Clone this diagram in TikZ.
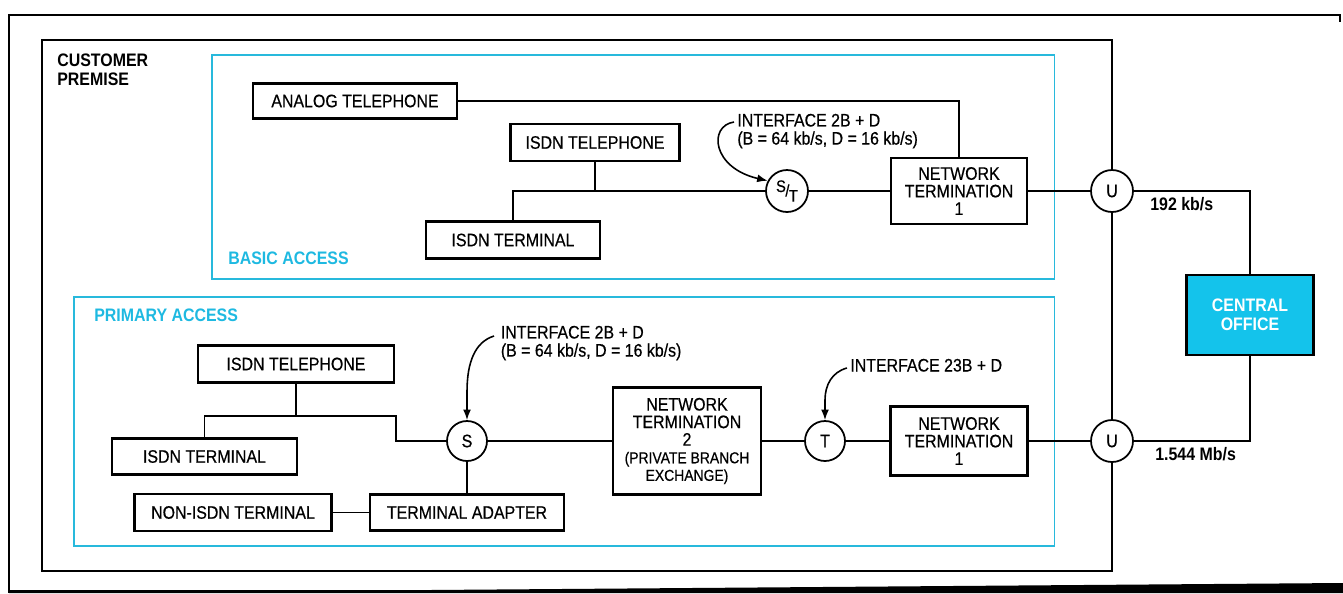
\documentclass[tikz,border=0pt]{standalone}
\usepackage{fontspec}
\setmainfont{Liberation Sans}[FakeStretch=0.88, UprightFeatures={FakeBold=0.5}]
\usetikzlibrary{arrows.meta}
\newlength\pxu \setlength\pxu{0.02cm}
\definecolor{cyanline}{RGB}{40,185,220}
\definecolor{cyanfill}{RGB}{20,195,235}
\definecolor{cyantext}{RGB}{30,185,225}
\begin{document}
\begin{tikzpicture}[x=0.02cm,y=-0.02cm,
  lbl/.style={font=\fontsize{10.3}{10.3}\selectfont, inner sep=0pt},
  blbl/.style={font=\fontsize{10.3}{10.8}\selectfont\bfseries, inner sep=0pt},
  blk/.style={draw, line width=1.4pt, fill=white, inner sep=0pt, align=center, font=\fontsize{10.3}{10}\selectfont},
  ifc/.style={circle, draw, line width=1pt, fill=white, minimum size=42\pxu, inner sep=0pt, font=\fontsize{10.3}{10.3}\selectfont},
  wire/.style={line width=0.9pt},
  arr/.style={line width=0.9pt, -{Latex[length=6pt,width=4.5pt]}},
  region/.style={draw=cyanline, line width=1.1pt}]
\useasboundingbox (0,0) rectangle (1343,593);
% outer frame
\draw[line width=1.1pt] (9,593) -- (9,15) -- (1340,15) -- (1340,22);
\fill (9,590) -- (430,590) -- (1343,583) -- (1343,593) -- (9,593) -- cycle;
% access regions
\draw[region] (212,55) rectangle (1054.5,279);
\draw[region] (74,297) rectangle (1054.5,546);
% basic access
\node[blk, minimum width=204\pxu, minimum height=35\pxu] (analog) at (355,101) {ANALOG TELEPHONE};
\node[blk, minimum width=169\pxu, minimum height=37\pxu] (isdntelb) at (595,142.5) {ISDN TELEPHONE};
\node[blk, minimum width=174\pxu, minimum height=37\pxu] (isdntermb) at (513,240) {ISDN TERMINAL};
\node[ifc] (st) at (787,191) {\fontsize{9.5}{9.5}\selectfont\raisebox{2.5pt}{S}\kern-0.3pt/\kern-0.3pt\raisebox{-3pt}{T}};
\node[blk, minimum width=136\pxu, minimum height=66\pxu] (nt1b) at (959,191) {NETWORK\\TERMINATION\\1};
\node[ifc] (u1) at (1112,191) {U};
\node[blk, minimum width=127\pxu, minimum height=80\pxu, fill=cyanfill, text=white, font=\fontsize{10.3}{10.8}\selectfont\bfseries] (co) at (1250,315) {CENTRAL\\OFFICE};
% primary access
\node[blk, minimum width=196\pxu, minimum height=37\pxu] (isdntelp) at (296,364) {ISDN TELEPHONE};
\node[blk, minimum width=185\pxu, minimum height=36\pxu] (isdntermp) at (204.5,456.5) {ISDN TERMINAL};
\node[blk, minimum width=197\pxu, minimum height=37\pxu] (nonisdn) at (233,512.5) {NON-ISDN TERMINAL};
\node[blk, minimum width=194\pxu, minimum height=36\pxu] (ta) at (467,512.5) {TERMINAL ADAPTER};
\node[ifc, minimum size=40\pxu] (s) at (467,441) {S};
\node[blk, minimum width=148\pxu, minimum height=107\pxu] (nt2) at (687,441) {NETWORK\\TERMINATION\\2\\{\fontsize{9}{9}\selectfont (PRIVATE BRANCH}\\{\fontsize{9}{9}\selectfont EXCHANGE)}};
\node[ifc, minimum size=40\pxu] (t) at (825,441) {T};
\node[blk, minimum width=137\pxu, minimum height=69\pxu] (nt1p) at (959,441) {NETWORK\\TERMINATION\\1};
\node[ifc] (u2) at (1112,441) {U};
% customer premise boundary
\draw[line width=1.2pt] (u1.north) -- (1112,40) -- (42,40) -- (42,571) -- (1112,571) -- (u2.south);
\draw[wire] (u1.south) -- (u2.north);
% basic wires
\draw[wire] (analog.east) -| (nt1b.north);
\draw[wire] (isdntermb.north) |- (st.west);
\draw[wire] (isdntelb.south) -- (isdntelb.south |- st.west);
\draw[wire] (st) -- (nt1b) -- (u1);
\draw[wire] (u1.east) -| (co.north);
\draw[wire] (u2.east) -| (co.south);
% primary wires
\coordinate (jp) at (396,416);
\draw[wire] (isdntermp.north) |- (jp) |- (s.west);
\draw[wire] (isdntelp.south) -- (isdntelp.south |- jp);
\draw[wire] (s.south) -- (ta.north);
\draw[wire] (nonisdn.east) -- (ta.west);
\draw[wire] (s) -- (nt2) -- (t) -- (nt1p) -- (u2);
% interface labels and arrows
\node[lbl, anchor=north west, align=left] (if1) at (737,113.5) {INTERFACE 2B + D\\(B = 64 kb/s, D = 16 kb/s)};
\coordinate (a1) at (734,122);
\draw[arr] (a1) .. controls (708,126) and (712,168) .. (st.152);
\node[lbl, anchor=north west, align=left] (if2) at (500.5,325.5) {INTERFACE 2B + D\\(B = 64 kb/s, D = 16 kb/s)};
\coordinate (a2) at (494,336);
\draw[arr] (a2) .. controls (475,342) and (467,362) .. (467,392) -- (s.north);
\node[lbl, anchor=base west] (if3) at (850,371.5) {INTERFACE 23B + D};
\coordinate (a3) at (847,368);
\draw[arr] (a3) .. controls (832,372) and (825,385) .. (825,400) -- (t.north);
% text labels
\node[blbl, anchor=north west, align=left] (cp) at (57,54) {CUSTOMER\\PREMISE};
\node[blbl, text=cyantext, anchor=base west] (ba) at (228,264) {BASIC ACCESS};
\node[blbl, text=cyantext, anchor=base west] (pa) at (94,321.5) {PRIMARY ACCESS};
\node[blbl, anchor=base west] (r1) at (1150,210.5) {192 kb/s};
\node[blbl, anchor=base west] (r2) at (1155,460.5) {1.544 Mb/s};
\end{tikzpicture}
\end{document}
